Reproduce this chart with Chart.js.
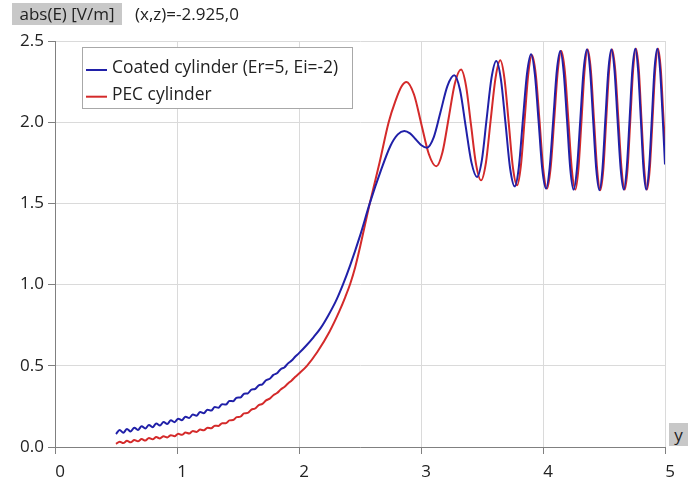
<!DOCTYPE html>
<html>
<head>
<meta charset="utf-8">
<script src="https://cdn.jsdelivr.net/npm/chart.js@4.4.0/dist/chart.umd.min.js"></script>
<style>
html,body{margin:0;padding:0;background:#fff;}
#wrap{position:relative;width:696px;height:480px;overflow:hidden;font-family:"Open Sans",sans-serif;}
canvas{position:absolute;left:0;top:0;}
.lbl{position:absolute;font-size:17px;color:#222;line-height:22px;white-space:nowrap;}
</style>
</head>
<body>
<div id="wrap">
<canvas id="c" width="696" height="480"></canvas>
<div class="lbl" style="left:12px;top:3px;width:110px;height:22px;background:#c8c8c8;text-align:center;">abs(E) [V/m]</div>
<div class="lbl" style="left:135px;top:3px;">(x,z)=-2.925,0</div>
<div class="lbl" style="left:669px;top:423px;width:19px;height:23px;line-height:23px;background:#c8c8c8;text-align:center;">y</div>
</div>
<script>
// ---- data ----
const seriesLabels = ['Coated cylinder (Er=5, Ei=-2)', 'PEC cylinder'];
const xTickValues = [0, 1, 2, 3, 4, 5];
const yTickLabels = ['0.0', '0.5', '1.0', '1.5', '2.0', '2.5'];

const coatedX = [
0.50,0.53,0.56,0.59,0.62,0.65,0.68,0.71,0.74,0.77,0.80,0.83,0.86,0.89,0.92,0.95,0.98,1.01,1.04,1.07,
1.10,1.13,1.16,1.19,1.22,1.25,1.28,1.31,1.34,1.37,1.40,1.43,1.46,1.49,1.52,1.55,1.58,1.61,1.64,1.67,
1.70,1.73,1.76,1.79,1.82,1.85,1.88,1.91,1.94,1.97,2.00,2.06,2.12,2.18,2.24,2.30,2.36,2.42,2.50,2.58,2.67,
2.75,2.81,2.863,2.910,2.956,3.003,3.049,3.105,3.161,3.217,3.273,3.320,3.366,3.413,3.459,3.499,3.538,3.578,3.617,
3.655,3.693,3.730,3.768,3.802,3.835,3.869,3.902,3.933,3.964,3.994,4.025,4.054,4.084,4.113,4.142,4.169,4.197,4.224,
4.251,4.278,4.306,4.333,4.360,4.386,4.411,4.437,4.462,4.487,4.511,4.536,4.560,4.586,4.611,4.637,4.662,4.686,4.710,
4.733,4.757,4.779,4.802,4.824,4.846,4.869,4.892,4.914,4.937,4.959,4.979,5.000];
const coatedY = [
0.080,0.104,0.088,0.111,0.096,0.119,0.105,0.128,0.114,0.136,0.122,0.144,0.132,0.154,0.142,0.164,0.153,0.174,0.165,0.187,
0.179,0.200,0.193,0.215,0.208,0.230,0.224,0.246,0.242,0.264,0.261,0.283,0.282,0.304,0.305,0.328,0.330,0.353,0.357,0.380,
0.386,0.411,0.420,0.444,0.454,0.479,0.490,0.515,0.532,0.557,0.578,0.625,0.677,0.735,0.810,0.895,1.000,1.120,1.300,1.500,1.700,
1.855,1.925,1.946,1.931,1.895,1.858,1.843,1.908,2.066,2.224,2.289,2.198,1.976,1.754,1.663,1.767,2.020,2.273,2.377,
2.264,1.991,1.718,1.605,1.724,2.012,2.299,2.418,2.297,2.005,1.712,1.591,1.715,2.015,2.314,2.438,2.313,2.012,1.710,
1.585,1.711,2.016,2.321,2.447,2.321,2.014,1.707,1.581,1.707,2.014,2.321,2.447,2.321,2.016,1.711,1.585,1.712,2.019,
2.326,2.453,2.326,2.019,1.712,1.585,1.712,2.019,2.326,2.453,2.330,2.060,1.740];

const pecX = [
0.50,0.53,0.56,0.59,0.62,0.65,0.68,0.71,0.74,0.77,0.80,0.83,0.86,0.89,0.92,0.95,0.98,1.01,1.04,1.07,
1.10,1.13,1.16,1.19,1.22,1.25,1.28,1.31,1.34,1.37,1.40,1.43,1.46,1.49,1.52,1.55,1.58,1.61,1.64,1.67,
1.70,1.73,1.76,1.79,1.82,1.85,1.88,1.91,1.94,1.97,2.00,2.065,2.15,2.25,2.33,2.38,2.42,2.46,2.50,2.58,2.66,2.735,
2.79,2.84,2.881,2.942,3.003,3.064,3.125,3.176,3.227,3.277,3.328,3.369,3.410,3.451,3.492,3.532,3.571,3.611,3.650,
3.684,3.719,3.753,3.787,3.818,3.849,3.879,3.910,3.941,3.972,4.002,4.033,4.062,4.092,4.121,4.150,4.179,4.208,4.236,
4.265,4.290,4.316,4.341,4.366,4.392,4.418,4.444,4.470,4.494,4.518,4.542,4.566,4.592,4.618,4.644,4.670,4.693,4.716,
4.739,4.762,4.785,4.807,4.830,4.852,4.875,4.898,4.920,4.943,4.965,4.985,5.000];
const pecY = [
0.019,0.033,0.024,0.038,0.029,0.043,0.035,0.049,0.040,0.055,0.047,0.061,0.053,0.066,0.059,0.073,0.066,0.081,0.075,0.089,
0.083,0.098,0.093,0.107,0.103,0.119,0.115,0.131,0.130,0.147,0.146,0.164,0.166,0.184,0.187,0.207,0.210,0.230,0.237,0.258,
0.265,0.287,0.298,0.319,0.332,0.354,0.370,0.391,0.410,0.432,0.452,0.500,0.585,0.710,0.835,0.925,1.005,1.105,1.230,1.500,1.750,2.000,
2.130,2.220,2.248,2.172,1.988,1.804,1.728,1.815,2.026,2.237,2.324,2.224,1.983,1.742,1.642,1.750,2.012,2.273,2.381,
2.269,1.996,1.723,1.611,1.728,2.012,2.295,2.412,2.292,2.002,1.711,1.591,1.715,2.015,2.314,2.438,2.313,2.012,1.710,
1.585,1.711,2.016,2.321,2.447,2.321,2.014,1.707,1.581,1.707,2.014,2.321,2.447,2.321,2.016,1.711,1.585,1.712,2.019,
2.326,2.453,2.326,2.019,1.712,1.585,1.712,2.019,2.326,2.453,2.330,2.060,1.850];

const seriesColors = ['#2020a8', '#d42a2a'];

// ---- chart ----
const toPts = (xs, ys) => xs.map((x, i) => ({x: x, y: ys[i]}));
Chart.defaults.font.family = '"Open Sans", sans-serif';

const boxLegend = {
  id: 'boxLegend',
  afterDraw(chart) {
    const ctx = chart.ctx;
    ctx.save();
    ctx.fillStyle = '#ffffff';
    ctx.fillRect(82, 47, 271, 62);
    ctx.strokeStyle = '#a8a8a8';
    ctx.lineWidth = 1;
    ctx.strokeRect(82.5, 47.5, 270, 61);
    chart.data.datasets.forEach((ds, i) => {
      const y = 70 + i * 26.7;
      ctx.strokeStyle = ds.borderColor;
      ctx.lineWidth = 2;
      ctx.beginPath(); ctx.moveTo(86, y); ctx.lineTo(107, y); ctx.stroke();
      ctx.fillStyle = '#222';
      ctx.font = '17.4px "Open Sans", sans-serif';
      ctx.textBaseline = 'alphabetic';
      ctx.fillText(ds.label, 112, y + 3);
    });
    ctx.restore();
  }
};

new Chart(document.getElementById('c'), {
  type: 'line',
  data: {
    datasets: [
      {label: seriesLabels[0], data: toPts(coatedX, coatedY), borderColor: seriesColors[0], borderWidth: 2,
       pointRadius: 0, fill: false, cubicInterpolationMode: 'monotone'},
      {label: seriesLabels[1], data: toPts(pecX, pecY), borderColor: seriesColors[1], borderWidth: 2,
       pointRadius: 0, fill: false, cubicInterpolationMode: 'monotone'}
    ]
  },
  options: {
    responsive: false,
    animation: false,
    devicePixelRatio: 1,
    layout: {padding: {left: 0, top: 41, right: 31, bottom: 0}},
    plugins: {legend: {display: false}, tooltip: {enabled: false}},
    scales: {
      x: {
        type: 'linear', min: 0, max: 5,
        afterBuildTicks: (s) => { s.ticks = xTickValues.map(v => ({value: v})); },
        afterFit: (s) => { s.height = 33; },
        ticks: {color: '#222', font: {size: 17}, padding: 8, labelOffset: 5, maxRotation: 0,
                callback: (v) => String(v)},
        grid: {color: '#dadada', tickColor: '#808080', tickLength: 7, lineWidth: 1},
        border: {color: '#808080', width: 1}
      },
      y: {
        type: 'linear', min: 0, max: 2.5,
        afterBuildTicks: (s) => { s.ticks = yTickLabels.map((t, i) => ({value: i * 0.5})); },
        afterFit: (s) => { s.width = 55; },
        ticks: {color: '#222', font: {size: 17}, padding: 4,
                callback: (v, i) => yTickLabels[i]},
        grid: {color: '#dadada', tickColor: '#808080', tickLength: 7, lineWidth: 1},
        border: {color: '#808080', width: 1}
      }
    }
  },
  plugins: [boxLegend]
});
</script>
</body>
</html>
